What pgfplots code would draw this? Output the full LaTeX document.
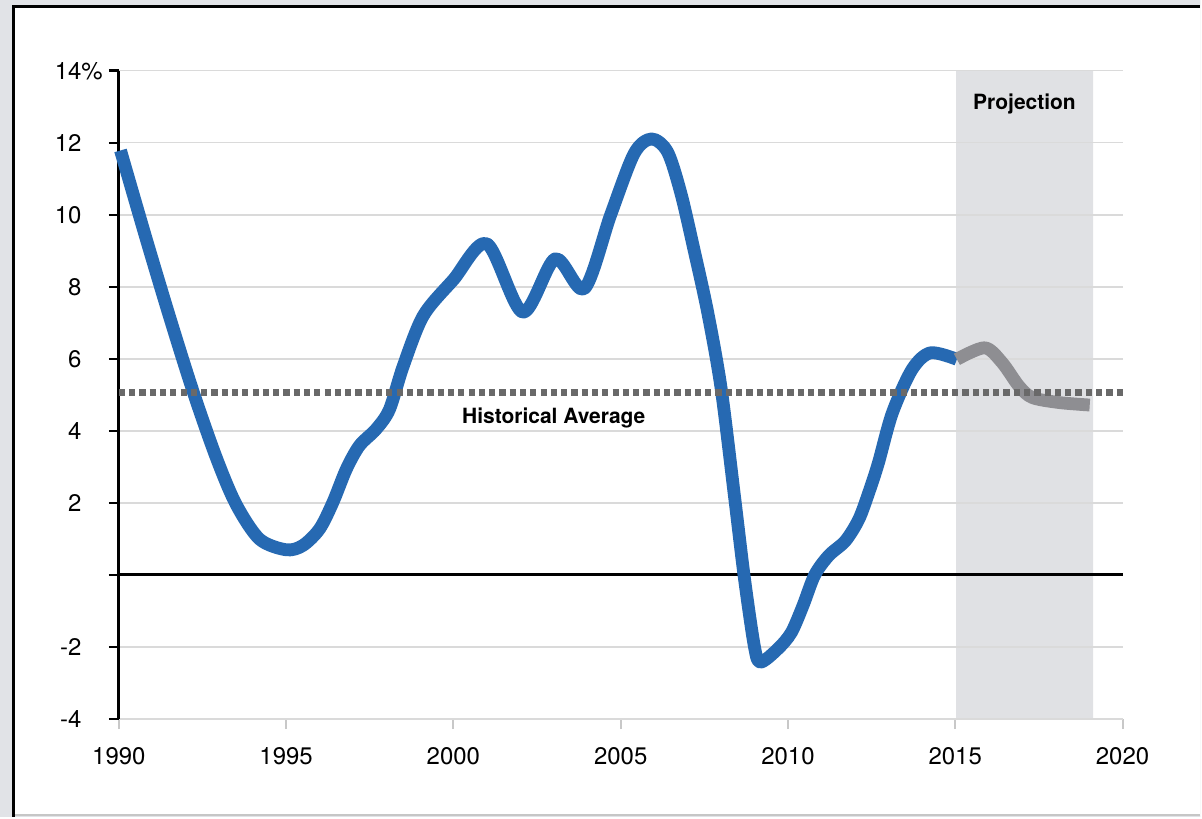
\documentclass[border=0pt]{standalone}
\usepackage{pgfplots}
\pgfplotsset{compat=1.18}
\usepackage{fontspec}
\setmainfont{TeX Gyre Heros}
\definecolor{lineblue}{RGB}{38,105,178}
\definecolor{projline}{RGB}{142,142,146}
\definecolor{avggray}{RGB}{105,105,105}
\definecolor{projfill}{RGB}{224,225,228}
\definecolor{outerbg}{RGB}{225,227,231}
\definecolor{gridgray}{RGB}{218,218,218}
\definecolor{tickgray}{RGB}{200,200,200}
\begin{document}
\begin{tikzpicture}
\begin{axis}[
  at={(59.5pt,49pt)}, anchor=south west,
  scale only axis, width=502.5pt, height=324.5pt,
  set layers,
  xmin=1990, xmax=2020, ymin=-4, ymax=14,
  axis x line*=bottom, axis y line*=left,
  x axis line style={draw=gridgray, line width=0.6pt},
  y axis line style={draw=black, line width=1.4pt},
  xtick={1990,1995,2000,2005,2010,2015,2020},
  xticklabels={1990,1995,2000,2005,2010,2015,2020},
  ytick={-4,-2,0,2,4,6,8,10,12,14},
  yticklabels={-4,-2,,2,4,6,8,10,12,14\makebox[0pt][l]{\%}},
  tick align=outside,
  major tick length=5pt,
  xtick style={draw=tickgray, line width=1pt},
  ytick style={draw=black, line width=1.4pt},
  ymajorgrids,
  grid style={draw=gridgray, line width=0.6pt},
  tick label style={font=\fontsize{12}{14}\selectfont},
  yticklabel style={anchor=east, inner sep=0pt, xshift=-13.5pt},
  xticklabel style={anchor=north, inner sep=0pt, yshift=-9pt},
  clip=false,
]
% page frame, drawn on the lowest layer
\addplot[fill=outerbg, draw=none, on layer=axis background]
  coordinates {(1986.4478,-6.718) (2022.3284,-6.718) (2022.3284,15.969) (1986.4478,15.969)} \closedcycle;
\addplot[fill=white, draw=none, on layer=axis background]
  coordinates {(1986.8507,-6.6764) (2022.3284,-6.6764) (2022.3284,15.789) (1986.8507,15.789)} \closedcycle;
\addplot[gray!45, line width=0.6pt, on layer=axis background]
  coordinates {(1986.8507,-6.668) (2022.3284,-6.668)};
\addplot[black, line width=1.6pt, on layer=axis background]
  coordinates {(1986.8507,-6.718) (1986.8507,15.789) (2022.3284,15.789)};
\addplot[fill=projfill, draw=none, on layer=axis background]
  coordinates {(2015.03,-4) (2019.12,-4) (2019.12,14) (2015.03,14)} \closedcycle;
\addplot[black, line width=1.5pt] coordinates {(1990,0) (2020,0)};
\addplot[lineblue, line width=6.4pt, smooth, tension=0.5, line cap=butt, line join=round] coordinates {
(1990.05,11.79) (1990.8,9.39) (1991.5,7.22) (1992.2,5.15) (1992.9,3.29)
(1993.5,1.97) (1994.2,1.0) (1995.0,0.7) (1995.5,0.82) (1996.0,1.28)
(1996.4,2.02) (1996.8,2.94) (1997.19,3.59) (1997.69,4.05) (1998.09,4.6)
(1998.5,5.8) (1999.1,7.2) (2000.0,8.2) (2001.0,9.2) (2002.07,7.3)
(2003.04,8.78) (2003.91,7.95) (2004.7,10.0) (2005.4,11.7) (2005.92,12.11)
(2006.4,11.75) (2006.8,10.6) (2007.2,9.0) (2007.6,7.3) (2008.0,5.2)
(2008.4,2.2) (2008.7,-0.1) (2009.0,-2.0) (2009.18,-2.42) (2009.7,-2.05)
(2010.1,-1.6) (2010.45,-0.85) (2010.8,0.0) (2011.22,0.54) (2011.72,0.95)
(2012.12,1.55) (2012.42,2.3) (2012.7,3.1) (2013.12,4.5) (2013.71,5.71)
(2014.26,6.17) (2015.05,5.99)
};
\addplot[projline, line width=6.4pt, smooth, tension=0.5, line cap=butt, line join=round] coordinates {
(2015.05,5.99) (2015.88,6.31) (2016.4,5.9) (2016.9,5.25) (2017.3,4.93)
(2018.1,4.79) (2019.02,4.72)
};
\addplot[avggray, line width=3.1pt, dash pattern=on 3.1pt off 2.05pt] coordinates {(1990,5.07) (2020,5.07)};
\node[font=\bfseries\fontsize{10.5}{12}\selectfont] at (axis cs:2003.0,4.35) {Historical Average};
\node[font=\bfseries\fontsize{10.5}{12}\selectfont] at (axis cs:2017.07,13.09) {Projection};
\end{axis}
\end{tikzpicture}
\end{document}
